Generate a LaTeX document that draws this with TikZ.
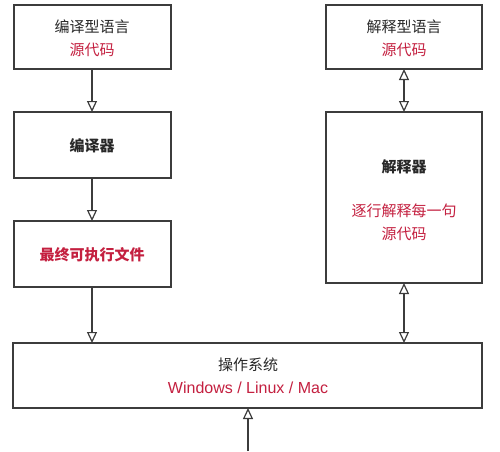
\documentclass[tikz,border=0pt]{standalone}
\usepackage{fontspec}
\setmainfont{Noto Sans CJK SC}
\newfontfamily\latinfont{Liberation Sans}
\usetikzlibrary{arrows.meta}
\definecolor{txtgray}{RGB}{40,40,40}
\definecolor{accred}{RGB}{196,32,64}
\definecolor{linegray}{RGB}{60,60,60}
\tikzset{
  box/.style={draw=linegray, line width=1.6pt, fill=white},
  lbl/.style={font=\fontsize{15}{23}\selectfont, text=txtgray, align=center, inner sep=0pt},
  tip/.tip={Triangle[open, length=11pt, width=10pt, line width=1.2pt]},
  conn/.style={draw=linegray, line width=1.3pt, -tip},
  dconn/.style={draw=linegray, line width=1.3pt, tip-tip}
}
\begin{document}
\begin{tikzpicture}[x=1pt, y=-1pt]
\useasboundingbox (0,0) rectangle (500,451);
% boxes
\draw[box] (14,5) rectangle (171,69);
\coordinate (b1s) at (92,69);
\draw[box] (14,112) rectangle (171,178);
\coordinate (b2n) at (92,112); \coordinate (b2s) at (92,178);
\draw[box] (14,221) rectangle (171,287);
\coordinate (b3n) at (92,221); \coordinate (b3s) at (92,287);
\draw[box] (326,5) rectangle (482,69);
\coordinate (r1s) at (404,69);
\draw[box] (326,112) rectangle (482,283);
\coordinate (r2n) at (404,112); \coordinate (r2s) at (404,283);
\draw[box] (13,343) rectangle (482,408);
\coordinate (osl) at (92,343); \coordinate (osr) at (404,343); \coordinate (osb) at (248,408);
\coordinate (bot) at (248,451);
% texts
\node[lbl] (t1) at (92,38) {编译型语言\\\textcolor{accred}{源代码}};
\node[lbl, font=\fontsize{15}{23}\selectfont\bfseries] (t2) at (92,146) {编译器};
\node[lbl, font=\fontsize{15}{23}\selectfont\bfseries, text=accred] (t3) at (92,255) {最终可执行文件};
\node[lbl] (t4) at (404,38) {解释型语言\\\textcolor{accred}{源代码}};
\node[lbl, font=\fontsize{15}{23}\selectfont\bfseries] (t5) at (404,167) {解释器};
\node[lbl, text=accred] (t6) at (404,222) {逐行解释每一句\\源代码};
\node[lbl] (t7) at (248,376) {操作系统\\\textcolor{accred}{\latinfont\fontsize{16}{23}\selectfont Windows / Linux / Mac}};
% connectors
\draw[conn] (b1s) -- (b2n);
\draw[conn] (b2s) -- (b3n);
\draw[conn] (b3s) -- (osl);
\draw[dconn] (r1s) -- (r2n);
\draw[dconn] (r2s) -- (osr);
\draw[conn] (bot) -- (osb);
\end{tikzpicture}
\end{document}
